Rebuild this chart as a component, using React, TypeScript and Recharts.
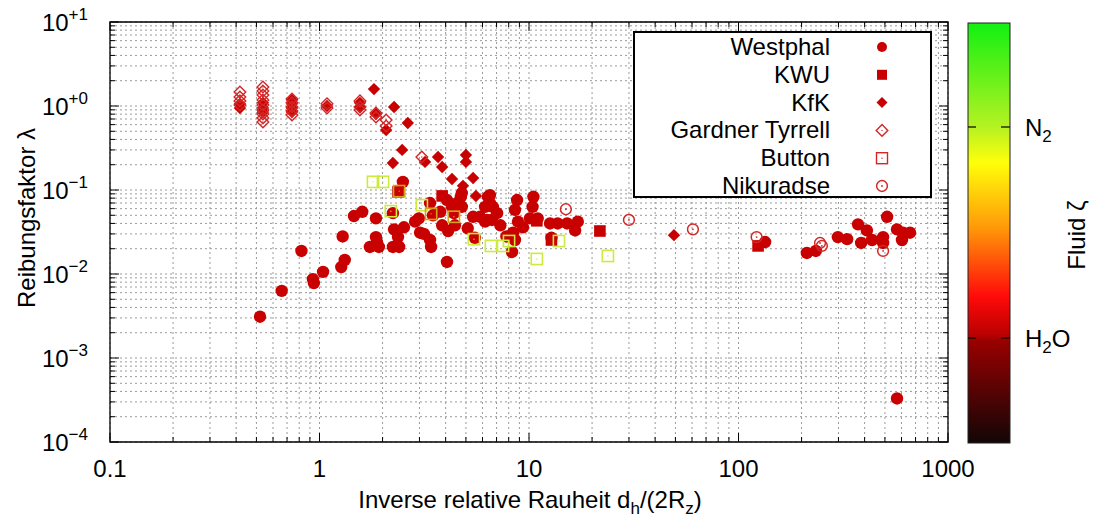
import React from 'react';
import { ScatterChart, Scatter, XAxis, YAxis, CartesianGrid, ReferenceArea, Legend } from 'recharts';

const W = 1097;
const H = 521;
const PLOT = { left: 110, right: 948, top: 22, bottom: 442 };
const FONT = '"Liberation Sans", Arial, Helvetica, sans-serif';

// ---- axis ticks ----
const xDecades = [0.1, 1, 10, 100, 1000];
const xTickLabels = ['0.1', '1', '10', '100', '1000'];
const yDecades = [1e-4, 1e-3, 1e-2, 1e-1, 1, 10];
const yTickExponents = ['\u22124', '\u22123', '\u22122', '\u22121', '+0', '+1'];
const minorMultipliers = [2, 3, 4, 5, 6, 7, 8, 9];

// ---- data: [dh/(2Rz), lambda] ----
const westphal: [number, number][] = [
  [0.52, 0.0031], [0.66, 0.0063], [0.82, 0.0188], [0.93, 0.0087], [0.94, 0.0078], [1.04, 0.0106],
  [1.27, 0.0121], [1.32, 0.0147], [1.29, 0.028], [1.46, 0.049], [1.6, 0.055], [1.86, 0.046],
  [1.86, 0.0275], [1.74, 0.021], [1.92, 0.021], [1.88, 0.024], [2.5, 0.125], [2.24, 0.053],
  [2.27, 0.034], [2.37, 0.0275], [2.24, 0.021], [2.4, 0.021], [2.53, 0.036], [2.86, 0.042],
  [2.98, 0.046], [3.37, 0.07], [3.48, 0.05], [3.15, 0.03], [3.37, 0.0254], [3.41, 0.021],
  [4.06, 0.0139], [3.85, 0.038], [4.11, 0.0325], [4.43, 0.038], [4.29, 0.063], [4.54, 0.07],
  [4.73, 0.083], [4.78, 0.092], [4.06, 0.076], [4.38, 0.053], [5.41, 0.048], [5.52, 0.027],
  [4.78, 0.063], [6.51, 0.087], [6.17, 0.063], [6.72, 0.063], [6.65, 0.044], [6.17, 0.042],
  [7.04, 0.053], [6.37, 0.083], [6.51, 0.07], [5.84, 0.048], [6.3, 0.044], [8.77, 0.076],
  [8.57, 0.058], [8.86, 0.042], [8.39, 0.031], [8.3, 0.0183], [8.57, 0.0254], [9.36, 0.036],
  [10.1, 0.046], [10.4, 0.063], [10.5, 0.083], [11.0, 0.046], [12.6, 0.04], [12.8, 0.027],
  [13.7, 0.04], [15.2, 0.04], [17.1, 0.042], [16.6, 0.033], [3.02, 0.031], [3.77, 0.055],
  [5.1, 0.035], [7.3, 0.038], [7.8, 0.028],
  [134, 0.024], [212, 0.0178], [234, 0.0188], [298, 0.0275], [330, 0.026], [372, 0.039],
  [410, 0.033], [385, 0.0234], [434, 0.0254], [490, 0.0234], [490, 0.0275], [512, 0.048],
  [571, 0.034], [610, 0.031], [659, 0.031], [603, 0.0254], [571, 0.00033],
];

const kwu: [number, number][] = [
  [2.37, 0.095], [3.85, 0.085], [10.9, 0.043], [12.8, 0.0254], [21.8, 0.0325], [124, 0.0216],
];

const kfk: [number, number][] = [
  [0.417, 1.06], [0.417, 0.947], [0.537, 1.09], [0.537, 0.947], [0.537, 0.849],
  [0.739, 1.18], [0.739, 1.06], [0.739, 0.947], [0.739, 0.849], [1.086, 1.0],
  [1.56, 1.09], [1.56, 0.973], [1.86, 0.803], [1.82, 1.59], [2.08, 0.518], [2.27, 0.973],
  [2.64, 0.628], [2.48, 0.3], [2.24, 0.21], [3.19, 0.216], [3.68, 0.247], [3.85, 0.188],
  [5.0, 0.261], [5.0, 0.216], [4.29, 0.135], [5.41, 0.139], [4.84, 0.112], [5.58, 0.085],
  [49.2, 0.029],
];

const gardnerTyrrell: [number, number][] = [
  [0.417, 1.47], [0.417, 1.28], [0.417, 1.15], [0.417, 1.03],
  [0.537, 1.68], [0.537, 1.51], [0.537, 1.35], [0.537, 1.18], [0.537, 1.03], [0.537, 0.896],
  [0.537, 0.803], [0.537, 0.72], [0.537, 0.645],
  [0.739, 1.21], [0.739, 1.09], [0.739, 0.973], [0.739, 0.872], [0.739, 0.78],
  [1.086, 1.06], [1.086, 0.947], [1.56, 1.15], [1.56, 0.973], [1.56, 0.896],
  [1.86, 0.826], [1.86, 0.74], [2.08, 0.68], [2.08, 0.578], [3.08, 0.247],
];

// Button: [x, y, fluid tone index] (0 = N2-like yellow-green, 1 = orange)
const button: [number, number, number][] = [
  [1.8, 0.125, 0], [2.01, 0.125, 0], [2.19, 0.056, 0], [2.4, 0.097, 1], [3.08, 0.066, 0],
  [3.41, 0.052, 1], [4.38, 0.048, 1], [5.46, 0.026, 0], [6.58, 0.0216, 0], [7.52, 0.0216, 0],
  [8.03, 0.0247, 0], [10.9, 0.0151, 0], [13.9, 0.0247, 0], [23.8, 0.0164, 0],
];
const buttonTones = ['#cdeb3c', '#d4a21a'];

const nikuradse: [number, number][] = [
  [15.0, 0.059], [30.0, 0.044], [60.6, 0.034], [122, 0.0275], [245, 0.0234], [250, 0.0216], [490, 0.0188],
];

const seriesNames = ['Westphal', 'KWU', 'KfK', 'Gardner Tyrrell', 'Button', 'Nikuradse'];

const colorbarStops = ['#12f012', '#b6f222', '#ffff0a', '#ff9a08', '#ff0a0a', '#b80000', '#9a0000', '#120606'];
const colorbarOffsets = [0, 0.248, 0.333, 0.486, 0.652, 0.745, 0.755, 1];

const RED = '#c80000';
const OPEN_RED = '#d42626';

const toPts = (arr: [number, number][]) => arr.map(([x, y]) => ({ x, y }));

const buildTicks = (decades: number[]) => {
  const out: number[] = [];
  decades.forEach((d, i) => {
    out.push(d);
    if (i < decades.length - 1) minorMultipliers.forEach((m) => out.push(d * m));
  });
  return out;
};
const xTicks = buildTicks(xDecades);
const yTicks = buildTicks(yDecades);

const decadeIndex = (decades: number[], v: number) =>
  decades.findIndex((d) => Math.abs(Math.log10(d) - Math.log10(v)) < 1e-6);

// ---- markers ----
const Dot = (p: any) => <circle cx={p.cx} cy={p.cy} r={6.2} fill={RED} />;
const FilledSquare = (p: any) => <rect x={p.cx - 5.8} y={p.cy - 5.8} width={11.6} height={11.6} fill={RED} />;
const diamondPath = (cx: number, cy: number, r: number) =>
  `M${cx},${cy - r} L${cx + r},${cy} L${cx},${cy + r} L${cx - r},${cy} Z`;
const FilledDiamond = (p: any) => <path d={diamondPath(p.cx, p.cy, 6.2)} fill={RED} />;
const OpenDiamond = (p: any) => (
  <g>
    <path d={diamondPath(p.cx, p.cy, 5.8)} fill="none" stroke={OPEN_RED} strokeWidth={1.4} />
    <circle cx={p.cx} cy={p.cy} r={0.7} fill={OPEN_RED} />
  </g>
);
const OpenSquare = (p: any) => {
  const tone = p.payload?.tone ?? p.tone ?? 0;
  const c = buttonTones[tone];
  return (
    <g>
      <rect x={p.cx - 5.6} y={p.cy - 5.6} width={11.2} height={11.2} fill="none" stroke={c} strokeWidth={1.6} />
      <circle cx={p.cx} cy={p.cy} r={0.7} fill={c} />
    </g>
  );
};
const OpenCircle = (p: any) => (
  <g>
    <circle cx={p.cx} cy={p.cy} r={5.4} fill="none" stroke={OPEN_RED} strokeWidth={1.5} />
    <circle cx={p.cx} cy={p.cy} r={0.9} fill={OPEN_RED} />
  </g>
);

const legendMarkers = [
  (cx: number, cy: number) => <circle cx={cx} cy={cy} r={5} fill={RED} />,
  (cx: number, cy: number) => <rect x={cx - 5} y={cy - 5} width={10} height={10} fill={RED} />,
  (cx: number, cy: number) => <path d={diamondPath(cx, cy, 5.5)} fill={RED} />,
  (cx: number, cy: number) => <OpenDiamond cx={cx} cy={cy} />,
  (cx: number, cy: number) => (
    <g>
      <rect x={cx - 5.5} y={cy - 5.5} width={11} height={11} fill="none" stroke={OPEN_RED} strokeWidth={1.4} />
      <circle cx={cx} cy={cy} r={0.7} fill={OPEN_RED} />
    </g>
  ),
  (cx: number, cy: number) => <OpenCircle cx={cx} cy={cy} />,
];

const LegendBox = () => (
  <div
    style={{
      width: 299,
      height: 167,
      border: '2px solid #000',
      background: '#fff',
      boxSizing: 'border-box',
      position: 'relative',
    }}
  >
    <svg width={295} height={163} overflow="visible" style={{ position: 'absolute', left: 0, top: 0, overflow: 'visible' }}>
      {seriesNames.map((name, i) => {
        const cy = 14 + i * 27.8;
        return (
          <g key={name}>
            <text x={195} y={cy + 8} textAnchor="end" fontSize={24} fontFamily={FONT} fill="#000">
              {name}
            </text>
            {legendMarkers[i](247, cy)}
          </g>
        );
      })}
    </svg>
  </div>
);

// ---- ticks ----
const XTick = (p: any) => {
  const v = p.payload.value;
  const x = p.x;
  const idx = decadeIndex(xDecades, v);
  const major = idx >= 0;
  const len = major ? 9 : 5;
  return (
    <g>
      <line x1={x} x2={x} y1={PLOT.bottom} y2={PLOT.bottom - len} stroke="#000" strokeWidth={1} />
      <line x1={x} x2={x} y1={PLOT.top} y2={PLOT.top + len} stroke="#000" strokeWidth={1} />
      {major && (
        <text x={x} y={477} textAnchor="middle" fontSize={24} fontFamily={FONT} fill="#000">
          {xTickLabels[idx]}
        </text>
      )}
    </g>
  );
};

const YTick = (p: any) => {
  const v = p.payload.value;
  const y = p.y;
  const idx = decadeIndex(yDecades, v);
  const major = idx >= 0;
  const len = major ? 9 : 5;
  return (
    <g>
      <line x1={PLOT.left} x2={PLOT.left + len} y1={y} y2={y} stroke="#000" strokeWidth={1} />
      <line x1={PLOT.right} x2={PLOT.right - len} y1={y} y2={y} stroke="#000" strokeWidth={1} />
      {major && (
        <text x={88} y={y + 9} textAnchor="end" fontSize={24} fontFamily={FONT} fill="#000">
          10
          <tspan fontSize={17} dy={-11}>
            {yTickExponents[idx]}
          </tspan>
        </text>
      )}
    </g>
  );
};

const ColorBar = () => {
  const x0 = 968;
  const x1 = 1010;
  const y0 = 23;
  const y1 = 443;
  const tickN2 = 127;
  const tickH2O = 338;
  return (
    <svg
      width={W}
      height={H}
      style={{ position: 'absolute', left: 0, top: 0, pointerEvents: 'none' }}
    >
      <defs>
        <linearGradient id="fluidGrad" x1="0" y1="0" x2="0" y2="1">
          {colorbarStops.map((c, i) => (
            <stop key={i} offset={colorbarOffsets[i]} stopColor={c} />
          ))}
        </linearGradient>
      </defs>
      <rect x={x0} y={y0} width={x1 - x0} height={y1 - y0} fill="url(#fluidGrad)" stroke="#222" strokeWidth={1} />
      {[tickN2, tickH2O].map((ty) => (
        <g key={ty}>
          <line x1={x0} x2={x0 + 8} y1={ty} y2={ty} stroke="#000" strokeWidth={1.2} />
          <line x1={x1 - 9} x2={x1} y1={ty} y2={ty} stroke="#000" strokeWidth={1.2} />
        </g>
      ))}
      <text x={1025} y={tickN2 + 8.5} fontSize={24} fontFamily={FONT} fill="#000">
        N<tspan fontSize={17} dy={6}>2</tspan>
      </text>
      <text x={1025} y={tickH2O + 8.5} fontSize={24} fontFamily={FONT} fill="#000">
        H<tspan fontSize={17} dy={6}>2</tspan>
        <tspan dy={-6}>O</tspan>
      </text>
      <text
        x={1085}
        y={235}
        transform="rotate(-90 1085 235)"
        textAnchor="middle"
        fontSize={24}
        fontFamily={FONT}
        fill="#000"
      >
        Fluid ζ
      </text>
      <text
        x={35}
        y={218}
        transform="rotate(-90 35 218)"
        textAnchor="middle"
        fontSize={24}
        fontFamily={FONT}
        fill="#000"
      >
        Reibungsfaktor λ
      </text>
      <text x={530} y={508} textAnchor="middle" fontSize={24} fontFamily={FONT} fill="#000">
        Inverse relative Rauheit d<tspan fontSize={17} dy={6}>h</tspan>
        <tspan dy={-6}>/(2R</tspan>
        <tspan fontSize={17} dy={6}>z</tspan>
        <tspan dy={-6}>)</tspan>
      </text>
    </svg>
  );
};

export default function App() {
  const buttonPts = button.map(([x, y, tone]) => ({ x, y, tone }));
  return (
    <div style={{ position: 'absolute', left: 0, top: 0, width: W, height: H, background: '#fff' }}>
      <ScatterChart
        width={W}
        height={H}
        margin={{ top: PLOT.top, right: W - PLOT.right, bottom: H - PLOT.bottom - 30, left: PLOT.left - 60 }}
      >
        <CartesianGrid stroke="#9a9a9a" strokeDasharray="2 3" strokeWidth={1} />
        <XAxis
          type="number"
          dataKey="x"
          scale="log"
          domain={[0.1, 1000]}
          allowDataOverflow
          ticks={xTicks}
          interval={0}
          height={30}
          tickLine={false}
          axisLine={false}
          tick={(p: any) => <XTick {...p} />}
        />
        <YAxis
          type="number"
          dataKey="y"
          scale="log"
          domain={[1e-4, 10]}
          allowDataOverflow
          ticks={yTicks}
          interval={0}
          width={60}
          tickLine={false}
          axisLine={false}
          tick={(p: any) => <YTick {...p} />}
        />
        <ReferenceArea
          x1={0.1}
          x2={1000}
          y1={1e-4}
          y2={10}
          fill="none"
          fillOpacity={0}
          stroke="#000"
          strokeWidth={1.3}
          ifOverflow="visible"
        />
        <Scatter name="Westphal" data={toPts(westphal)} shape={Dot} isAnimationActive={false} />
        <Scatter name="KWU" data={toPts(kwu)} shape={FilledSquare} isAnimationActive={false} />
        <Scatter name="KfK" data={toPts(kfk)} shape={FilledDiamond} isAnimationActive={false} />
        <Scatter name="Gardner Tyrrell" data={toPts(gardnerTyrrell)} shape={OpenDiamond} isAnimationActive={false} />
        <Scatter name="Button" data={buttonPts} shape={OpenSquare} isAnimationActive={false} />
        <Scatter name="Nikuradse" data={toPts(nikuradse)} shape={OpenCircle} isAnimationActive={false} />
        <Legend
          layout="vertical"
          align="center"
          verticalAlign="middle"
          content={() => <LegendBox />}
          wrapperStyle={{ left: 633, top: 31, width: 299, height: 167 }}
        />
      </ScatterChart>
      <ColorBar />
    </div>
  );
}
